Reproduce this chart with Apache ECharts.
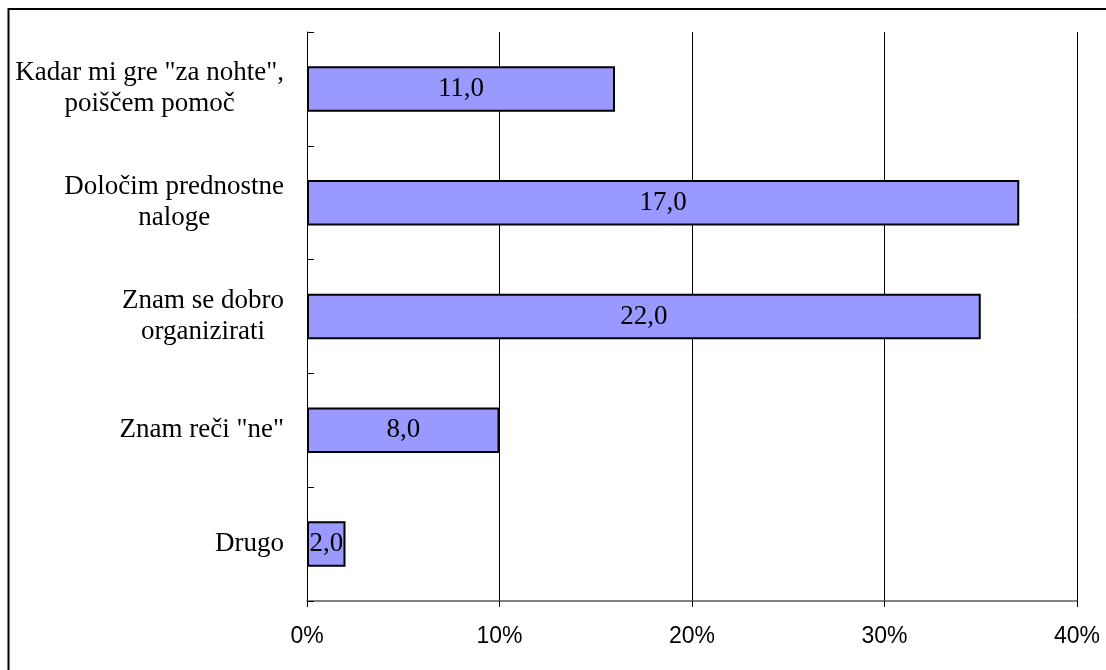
<!DOCTYPE html>
<html>
<head>
<meta charset="utf-8">
<script src="https://cdn.jsdelivr.net/npm/echarts@6/dist/echarts.min.js"></script>
<style>
  html, body { margin: 0; padding: 0; background: #fff; }
  #chart { width: 1106px; height: 670px; }
</style>
</head>
<body>
<div id="chart"></div>
<script>
// Answer categories, top to bottom (each entry is the lines of a wrapped label)
const categories = [
  ['Kadar mi gre "za nohte",', 'poiščem pomoč'],
  ['Določim prednostne', 'naloge'],
  ['Znam se dobro', 'organizirati'],
  ['Znam reči "ne"'],
  ['Drugo']
];
// Bar length in percent
const shares = [16, 37, 35, 10, 2];
// Value printed inside each bar
const barLabels = ['11,0', '17,0', '22,0', '8,0', '2,0'];
// Value-axis range and ticks
const axisMin = 0, axisMax = 40, axisStep = 10;

const serif = '"Liberation Serif", "DejaVu Serif", serif';
const sans = '"Liberation Sans", Arial, sans-serif';

const chart = echarts.init(document.getElementById('chart'), null, { renderer: 'canvas' });

chart.setOption({
  animation: false,
  backgroundColor: '#ffffff',
  graphic: [{
    type: 'rect',
    shape: { x: 8.5, y: 9, width: 1120, height: 700 },
    style: { fill: 'none', stroke: '#000', lineWidth: 2 },
    z: 0
  }],
  grid: { left: 307, right: 29, top: 32, bottom: 69, containLabel: false },
  xAxis: {
    type: 'value',
    min: axisMin, max: axisMax, interval: axisStep,
    axisLine: { show: true, lineStyle: { color: '#595959', width: 1.5 } },
    axisTick: { show: true, inside: false, length: 6, lineStyle: { color: '#000', width: 1 } },
    splitLine: { show: true, lineStyle: { color: '#000', width: 1 } },
    axisLabel: {
      formatter: v => v + '%',
      fontFamily: sans, fontSize: 23, color: '#000', margin: 24
    }
  },
  yAxis: {
    type: 'category',
    inverse: true,
    data: categories.map(c => c.join('\n')),
    axisLine: { show: true, lineStyle: { color: '#000', width: 1 } },
    axisTick: { show: true, inside: true, length: 7, lineStyle: { color: '#000', width: 1 } },
    axisLabel: {
      margin: 23,
      align: 'right',
      formatter: v => v.split('\n').map(l => '{c|' + l + '}').join('\n'),
      rich: {
        c: { align: 'center', fontFamily: serif, fontSize: 27, color: '#000', lineHeight: 31 }
      }
    }
  },
  series: [{
    type: 'bar',
    data: shares,
    barCategoryGap: '60%',
    itemStyle: { color: '#9999FF', borderColor: '#000', borderWidth: 2 },
    label: {
      show: true,
      position: 'inside',
      formatter: p => barLabels[p.dataIndex],
      fontFamily: serif, fontSize: 27, color: '#000'
    }
  }]
});
</script>
</body>
</html>
